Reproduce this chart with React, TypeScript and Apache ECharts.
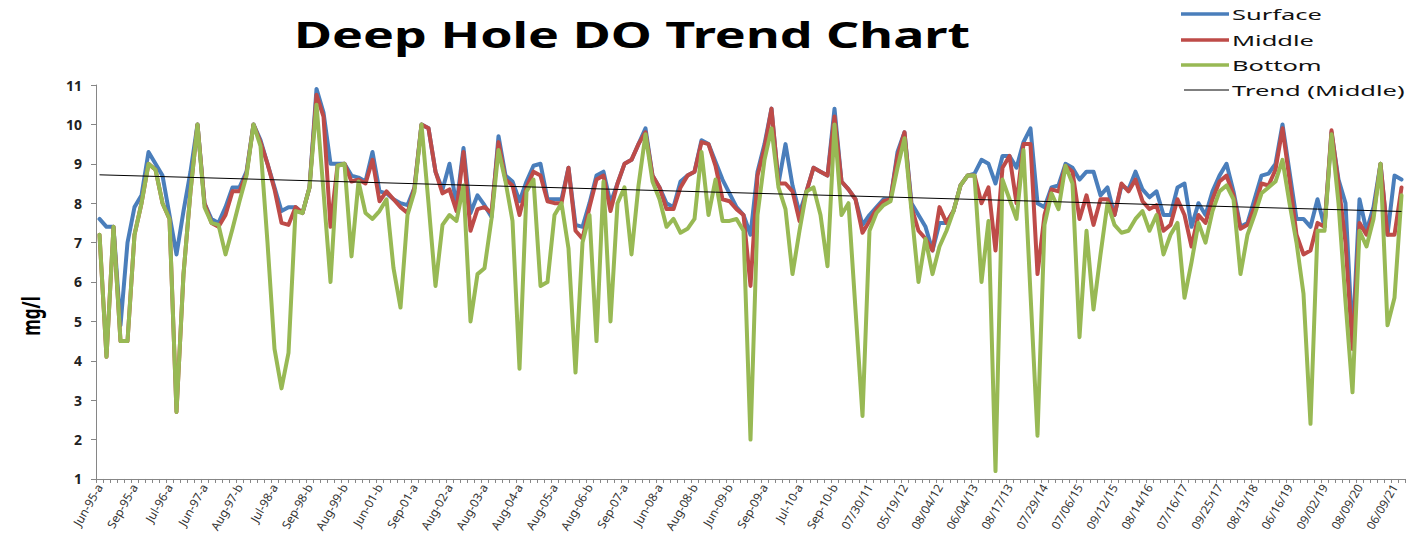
import React, { useEffect, useRef } from "react";
import * as echarts from "echarts";

const tickLabels = [
  "Jun-95-a", "Sep-95-a", "Jul-96-a", "Jun-97-a", "Aug-97-b", "Jul-98-a", "Sep-98-b", "Aug-99-b",
  "Jun-01-b", "Sep-01-a", "Aug-02-a", "Aug-03-a", "Aug-04-a", "Aug-05-a", "Aug-06-b", "Sep-07-a",
  "Jun-08-a", "Aug-08-b", "Jun-09-b", "Sep-09-a", "Jul-10-a", "Sep-10-b", "07/30/11", "05/19/12",
  "08/04/12", "06/04/13", "08/17/13", "07/29/14", "07/06/15", "09/12/15", "08/14/16", "07/16/17",
  "09/25/17", "08/13/18", "06/16/19", "09/02/19", "08/09/20", "06/09/21",
];

const surface = [
  7.6, 7.4, 7.4, 4.9, 7.0, 7.9, 8.2, 9.3, 9.0, 8.7,
  7.7, 6.7, 7.8, 8.8, 10.0, 8.0, 7.6, 7.5, 7.9, 8.4,
  8.4, 8.8, 10.0, 9.6, 9.0, 8.4, 7.8, 7.9, 7.9, 7.75,
  8.4, 10.9, 10.3, 9.0, 9.0, 9.0, 8.7, 8.65, 8.55, 9.3,
  8.3, 8.25, 8.1, 8.0, 7.95, 8.4, 10.0, 9.9, 8.8, 8.35,
  9.0, 7.95, 9.4, 7.75, 8.2, 7.95, 7.65, 9.7, 8.7, 8.55,
  8.05, 8.55, 8.95, 9.0, 8.1, 8.1, 8.1, 8.9, 7.45, 7.4,
  8.0, 8.7, 8.8, 8.0, 8.5, 9.0, 9.1, 9.5, 9.9, 8.7,
  8.4, 8.0, 7.9, 8.55, 8.7, 8.8, 9.6, 9.5, 9.05, 8.6,
  8.25, 7.9, 7.7, 7.2, 8.8, 9.5, 10.4, 8.5, 9.5, 8.45,
  7.75, 8.3, 8.9, 8.8, 8.7, 10.4, 8.55, 8.35, 8.1, 7.45,
  7.7, 7.9, 8.1, 8.1, 9.3, 9.8, 8.0, 7.7, 7.4, 6.8,
  7.5, 7.5, 7.8, 8.45, 8.7, 8.75, 9.1, 9.0, 8.5, 9.2,
  9.2, 8.9, 9.55, 9.9, 8.0, 7.9, 8.4, 8.45, 9.0, 8.9,
  8.6, 8.8, 8.8, 8.2, 8.4, 7.7, 8.45, 8.35, 8.8, 8.35,
  8.15, 8.3, 7.7, 7.7, 8.4, 8.5, 7.4, 8.0, 7.7, 8.3,
  8.7, 9.0, 8.3, 7.4, 7.5, 8.1, 8.7, 8.75, 9.0, 10.0,
  8.8, 7.6, 7.6, 7.4, 8.1, 7.4, 9.8, 8.6, 8.0, 4.5,
  8.1, 7.3, 7.9, 9.0, 7.2, 8.7, 8.6,
];

const middle = [
  7.2, 4.1, 7.4, 4.5, 4.5, 7.2, 8.0, 9.0, 8.85, 8.0,
  7.6, 2.7, 6.2, 8.3, 10.0, 8.0, 7.5, 7.4, 7.7, 8.3,
  8.3, 8.75, 10.0, 9.55, 9.0, 8.35, 7.5, 7.45, 7.9, 7.75,
  8.4, 10.75, 10.2, 7.4, 8.95, 9.0, 8.55, 8.6, 8.5, 9.1,
  8.05, 8.3, 8.1, 7.9, 7.75, 8.4, 10.0, 9.9, 8.8, 8.25,
  8.35, 7.8, 9.3, 7.3, 7.85, 7.9, 7.75, 9.55, 8.6, 8.45,
  7.7, 8.4, 8.8, 8.7, 8.05, 8.0, 8.0, 8.9, 7.3, 7.1,
  7.9, 8.6, 8.7, 7.8, 8.5, 9.0, 9.1, 9.5, 9.8, 8.7,
  8.4, 7.85, 7.85, 8.4, 8.7, 8.8, 9.55, 9.5, 8.95, 8.1,
  8.05, 7.85, 7.7, 5.9, 8.7, 9.4, 10.4, 8.5, 8.5, 8.3,
  7.55, 8.3, 8.9, 8.8, 8.7, 10.2, 8.55, 8.35, 8.1, 7.25,
  7.55, 7.85, 8.05, 8.1, 9.2, 9.8, 7.9, 7.3, 7.1, 6.8,
  7.9, 7.5, 7.8, 8.45, 8.7, 8.7, 8.0, 8.4, 6.8, 8.9,
  9.2, 8.0, 9.5, 9.5, 6.2, 7.7, 8.35, 8.3, 8.95, 8.8,
  7.6, 8.2, 7.45, 8.1, 8.1, 7.7, 8.5, 8.3, 8.6, 8.05,
  7.85, 7.95, 7.3, 7.45, 8.1, 7.7, 6.9, 7.7, 7.5, 8.1,
  8.55, 8.7, 8.2, 7.35, 7.45, 7.9, 8.5, 8.45, 8.85, 9.9,
  8.6, 7.2, 6.7, 6.8, 7.5, 7.4, 9.85, 8.5, 7.0, 4.3,
  7.5, 7.2, 7.7, 9.0, 7.2, 7.2, 8.4,
];

const bottom = [
  7.2, 4.1, 7.4, 4.5, 4.5, 7.2, 8.0, 9.0, 8.85, 8.0,
  7.6, 2.7, 6.2, 8.3, 10.0, 7.9, 7.5, 7.45, 6.7, 7.35,
  8.05, 8.7, 10.0, 9.45, 7.0, 4.3, 3.3, 4.2, 7.8, 7.75,
  8.4, 10.5, 8.3, 6.0, 8.95, 9.0, 6.65, 8.55, 7.75, 7.6,
  7.8, 8.1, 6.35, 5.35, 7.7, 8.3, 10.0, 8.0, 5.9, 7.45,
  7.7, 7.55, 8.45, 5.0, 6.2, 6.35, 7.6, 9.35, 8.55, 7.55,
  3.8, 8.3, 8.6, 5.9, 6.0, 7.7, 8.0, 6.85, 3.7, 7.0,
  7.7, 4.5, 8.55, 5.0, 8.0, 8.4, 6.7, 8.45, 9.75, 8.55,
  8.1, 7.4, 7.6, 7.25, 7.35, 7.6, 9.3, 7.7, 8.6, 7.55,
  7.55, 7.6, 7.3, 2.0, 7.7, 9.1, 9.9, 8.4, 7.85, 6.2,
  7.3, 8.3, 8.4, 7.7, 6.4, 10.0, 7.7, 8.0, 5.3, 2.6,
  7.3, 7.75, 7.95, 8.05, 8.9, 9.65, 7.8, 6.0, 7.1, 6.2,
  6.9, 7.3, 7.8, 8.45, 8.7, 8.7, 6.0, 7.55, 1.2, 8.6,
  8.1, 7.6, 9.35, 5.7, 2.1, 7.45, 8.25, 7.85, 8.95, 8.5,
  4.6, 7.3, 5.3, 6.7, 8.0, 7.45, 7.25, 7.3, 7.6, 7.8,
  7.3, 7.7, 6.7, 7.2, 7.5, 5.6, 6.5, 7.5, 7.0, 7.8,
  8.3, 8.45, 8.1, 6.2, 7.2, 7.7, 8.25, 8.4, 8.55, 9.1,
  8.0, 7.0, 5.7, 2.4, 7.3, 7.3, 9.75, 8.0, 5.5, 3.2,
  7.3, 6.9, 7.6, 9.0, 4.9, 5.6, 8.2,
];

// Linear trend of the Middle series, as drawn: value at first and last sample
const trendEnds = [8.72, 7.79];

const seriesNames = ["Surface", "Middle", "Bottom", "Trend (Middle)"];
const seriesColors = ["#4a7ebb", "#be4b48", "#98b954", "#000000"];

const categories = surface.map((_, i) => (i % 5 === 0 ? tickLabels[i / 5] : ""));

export default function App() {
  const ref = useRef<HTMLDivElement>(null);

  useEffect(() => {
    if (!ref.current) return;
    const chart = echarts.init(ref.current, null, { renderer: "svg" });
    const last = categories.length - 1;

    const legendRows = [14, 40, 65, 90];
    const legendGraphics: any[] = [];
    seriesNames.forEach((name, k) => {
      const isTrend = k === 3;
      legendGraphics.push({
        type: "line",
        shape: { x1: isTrend ? 1184 : 1181, y1: legendRows[k], x2: 1229, y2: legendRows[k] },
        style: { stroke: seriesColors[k], lineWidth: isTrend ? 1 : 3.5 },
      });
      legendGraphics.push({
        type: "text",
        x: 1232,
        y: legendRows[k],
        scaleX: 1.7,
        style: {
          text: name,
          fontFamily: "Noto Sans",
          fontSize: 15,
          fill: "#111",
          textAlign: "left",
          textVerticalAlign: "middle",
        },
      });
    });

    const lineSeries = [surface, middle, bottom].map((data, k) => ({
      name: seriesNames[k],
      type: "line",
      data,
      symbol: "none",
      lineStyle: { color: seriesColors[k], width: 4, join: "round", cap: "round" },
      itemStyle: { color: seriesColors[k] },
      z: 2 + k,
    }));

    chart.setOption({
      animation: false,
      backgroundColor: "#ffffff",
      grid: { left: 96, right: 11, top: 85, bottom: 56, containLabel: false },
      xAxis: {
        type: "category",
        data: categories,
        boundaryGap: true,
        axisLine: { lineStyle: { color: "#868686", width: 1 } },
        axisTick: { show: true, interval: 0, length: 4, lineStyle: { color: "#868686" } },
        axisLabel: {
          interval: 4,
          rotate: 60,
          margin: 6,
          fontSize: 12,
          fontFamily: "Noto Sans",
          color: "#333",
        },
        splitLine: { show: false },
      },
      yAxis: {
        type: "value",
        min: 1,
        max: 11,
        interval: 1,
        axisLine: { show: true, lineStyle: { color: "#868686", width: 1 } },
        axisTick: { show: true, length: 5, lineStyle: { color: "#868686" } },
        axisLabel: {
          margin: 14,
          fontSize: 14,
          fontWeight: "bold",
          fontFamily: "Noto Sans",
          color: "#222",
        },
        splitLine: { show: false },
      },
      series: [
        ...lineSeries,
        {
          name: seriesNames[3],
          type: "line",
          data: [
            [0, trendEnds[0]],
            [last, trendEnds[1]],
          ],
          symbol: "none",
          lineStyle: { color: seriesColors[3], width: 1 },
          z: 6,
        },
      ],
      graphic: [
        {
          type: "text",
          x: 632,
          y: 35,
          scaleX: 1.485,
          style: {
            text: "Deep Hole DO Trend Chart",
            fontFamily: "Noto Sans",
            fontWeight: "bold",
            fontSize: 35,
            fill: "#000",
            textAlign: "center",
            textVerticalAlign: "middle",
          },
        },
        {
          type: "text",
          x: 30,
          y: 316,
          rotation: Math.PI / 2,
          scaleY: 1.5,
          style: {
            text: "mg/l",
            fontFamily: "Noto Sans",
            fontWeight: "bold",
            fontSize: 17,
            fill: "#000",
            textAlign: "center",
            textVerticalAlign: "middle",
          },
        },
        ...legendGraphics,
      ],
    });

    return () => chart.dispose();
  }, []);

  return (
    <div
      ref={ref}
      style={{ position: "fixed", left: 0, top: 0, width: 1416, height: 535, background: "#fff" }}
    />
  );
}
